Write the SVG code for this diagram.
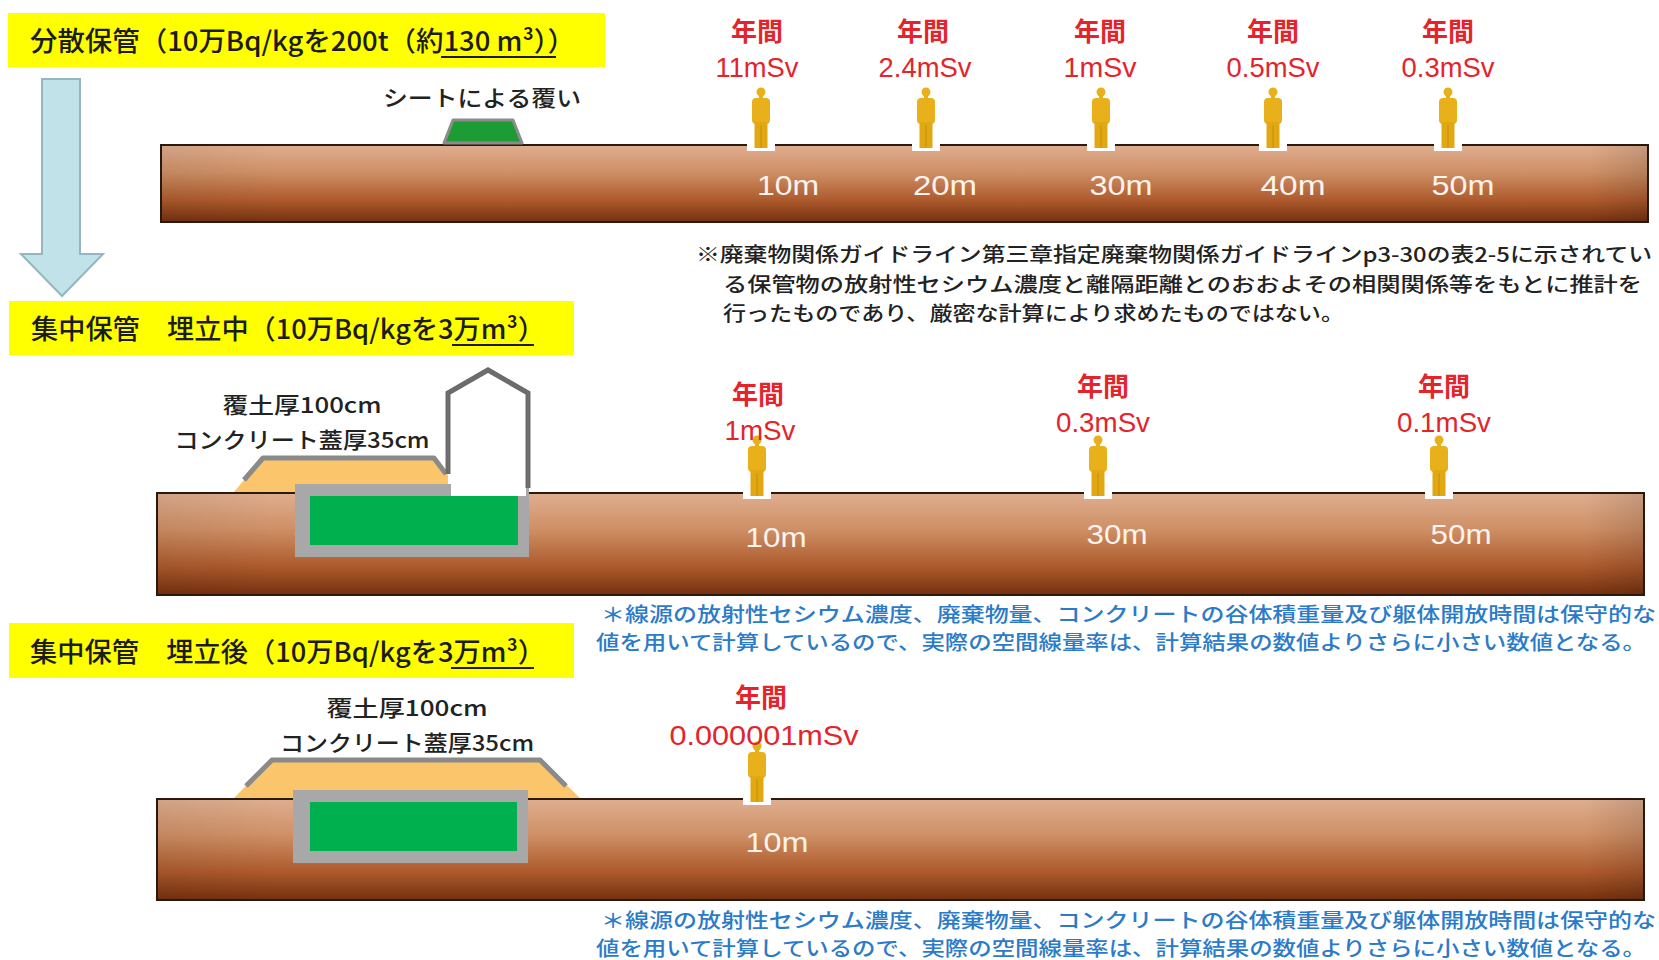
<svg xmlns="http://www.w3.org/2000/svg" xmlns:xlink="http://www.w3.org/1999/xlink" width="1659" height="960" viewBox="0 0 1659 960">
  <defs>
    <style>
      .jp { font-family: "Noto Sans CJK JP", "Liberation Sans", sans-serif; }
      .hdr { font-size: 27px; font-weight: 500; fill: #1c1c1c; }
      .hdrbox { fill: #ffff00; }
      .yr { font-family: "Noto Sans CJK JP", sans-serif; font-size: 26px; font-weight: bold; fill: #e3242b; text-anchor: middle; }
      .dose { font-family: "Liberation Sans", "Noto Sans CJK JP", sans-serif; font-size: 28px; fill: #e3242b; text-anchor: middle; }
      .dist { font-family: "Liberation Sans", sans-serif; font-size: 28px; fill: #fbf3ee; text-anchor: middle; }
      .lbl { font-family: "Noto Sans CJK JP", sans-serif; font-size: 22px; font-weight: 500; fill: #222222; text-anchor: middle; }
      .note { font-family: "Noto Sans CJK JP", sans-serif; font-size: 20px; font-weight: 500; fill: #222222; }
      .bnote { font-family: "Noto Sans CJK JP", sans-serif; font-size: 20px; font-weight: 500; fill: #2b7bc8; }
      .ground { fill: url(#soil); stroke: #2a1a10; stroke-width: 2; }
      .mound { fill: #fbc56c; }
      .moundtop { fill: none; stroke: #8a8a8a; stroke-width: 5; stroke-linejoin: round; }
      .vault { fill: #a8a8a8; }
      .waste { fill: #00b04f; }
      .uline { stroke: #1c1c1c; stroke-width: 2; }
    </style>
    <linearGradient id="soil" x1="0" y1="0" x2="0" y2="1">
      <stop offset="0" stop-color="#dfae90"/>
      <stop offset="0.35" stop-color="#cf9066"/>
      <stop offset="0.72" stop-color="#ad5a2c"/>
      <stop offset="1" stop-color="#74300f"/>
    </linearGradient>
    <linearGradient id="soilEdge" x1="0" y1="0" x2="1" y2="0">
      <stop offset="0" stop-color="#000" stop-opacity="0.06"/>
      <stop offset="0.08" stop-color="#000" stop-opacity="0"/>
      <stop offset="0.96" stop-color="#000" stop-opacity="0"/>
      <stop offset="1" stop-color="#000" stop-opacity="0.12"/>
    </linearGradient>
    <!-- standing figure, origin at the feet on the ground line -->
    <g id="person">
      <rect x="-14" y="-4" width="28" height="10" fill="#ffffff"/>
      <circle cx="0" cy="-53" r="4.5" fill="#e8b11c"/>
      <rect x="-2" y="-50" width="4" height="4" fill="#e8b11c"/>
      <rect x="-9" y="-47" width="18" height="26" rx="4" fill="#e8b11c"/>
      <rect x="-6.5" y="-23" width="13" height="26" fill="#e2a812"/>
      <rect x="-0.6" y="-20" width="1.2" height="23" fill="#c99410"/>
    </g>
  </defs>

  <rect width="1659" height="960" fill="#ffffff"/>

  <!-- section headers -->
  <g id="header-dispersed">
    <rect class="hdrbox" x="8" y="13" width="597" height="54"/>
    <text class="jp hdr" x="30" y="51" textLength="545" lengthAdjust="spacingAndGlyphs">分散保管（10万Bq/kgを200t（約130 m³））</text>
    <line class="uline" x1="441" y1="57" x2="556" y2="57"/>
  </g>
  <g id="header-central-filling">
    <rect class="hdrbox" x="9" y="301" width="565" height="54"/>
    <text class="jp hdr" x="31" y="339" textLength="514" lengthAdjust="spacingAndGlyphs">集中保管　埋立中（10万Bq/kgを3万m³）</text>
    <line class="uline" x1="452" y1="345" x2="534" y2="345"/>
  </g>
  <g id="header-central-filled">
    <rect class="hdrbox" x="9" y="623" width="565" height="55"/>
    <text class="jp hdr" x="30" y="662" textLength="515" lengthAdjust="spacingAndGlyphs">集中保管　埋立後（10万Bq/kgを3万m³）</text>
    <line class="uline" x1="451" y1="668" x2="534" y2="668"/>
  </g>

  <!-- transition arrow -->
  <g id="connectors">
    <path d="M42,79 H80 V254 H103 L62,296 L21,254 H42 Z" fill="#c2e2ea" stroke="#93b6c2" stroke-width="2"/>
  </g>

  <!-- section 1: dispersed storage -->
  <g id="ground-1">
    <rect class="ground" x="161" y="145" width="1487" height="77"/>
    <rect x="161" y="145" width="1487" height="77" fill="url(#soilEdge)"/>
  </g>
  <g id="sheet-cover">
    <polygon points="444,143 453,120 513,120 522,143" fill="#1d9c35" stroke="#8c8c8c" stroke-width="3" stroke-linejoin="round"/>
    <text class="lbl" x="482" y="106" textLength="198" lengthAdjust="spacingAndGlyphs">シートによる覆い</text>
  </g>
  <g id="points-1">
    <use xlink:href="#person" x="761" y="145"/>
    <use xlink:href="#person" x="926" y="145"/>
    <use xlink:href="#person" x="1101" y="145"/>
    <use xlink:href="#person" x="1273" y="145"/>
    <use xlink:href="#person" x="1448" y="145"/>
    <text class="yr" x="757" y="41">年間</text>
    <text class="yr" x="923" y="41">年間</text>
    <text class="yr" x="1100" y="41">年間</text>
    <text class="yr" x="1273" y="41">年間</text>
    <text class="yr" x="1448" y="41">年間</text>
    <text class="dose" x="757" y="77" textLength="83" lengthAdjust="spacingAndGlyphs">11mSv</text>
    <text class="dose" x="925" y="77" textLength="93" lengthAdjust="spacingAndGlyphs">2.4mSv</text>
    <text class="dose" x="1100" y="77" textLength="73" lengthAdjust="spacingAndGlyphs">1mSv</text>
    <text class="dose" x="1273" y="77" textLength="93" lengthAdjust="spacingAndGlyphs">0.5mSv</text>
    <text class="dose" x="1448" y="77" textLength="93" lengthAdjust="spacingAndGlyphs">0.3mSv</text>
    <text class="dist" x="788" y="195" textLength="62" lengthAdjust="spacingAndGlyphs">10m</text>
    <text class="dist" x="945" y="195" textLength="64" lengthAdjust="spacingAndGlyphs">20m</text>
    <text class="dist" x="1121" y="195" textLength="63" lengthAdjust="spacingAndGlyphs">30m</text>
    <text class="dist" x="1293" y="195" textLength="65" lengthAdjust="spacingAndGlyphs">40m</text>
    <text class="dist" x="1463" y="195" textLength="63" lengthAdjust="spacingAndGlyphs">50m</text>
  </g>
  <g id="note-1">
    <text class="note" x="696" y="262" textLength="956" lengthAdjust="spacingAndGlyphs">※廃棄物関係ガイドライン第三章指定廃棄物関係ガイドラインp3-30の表2-5に示されてい</text>
    <text class="note" x="723" y="292" textLength="919" lengthAdjust="spacingAndGlyphs">る保管物の放射性セシウム濃度と離隔距離とのおおよその相関関係等をもとに推計を</text>
    <text class="note" x="723" y="321" textLength="621" lengthAdjust="spacingAndGlyphs">行ったものであり、厳密な計算により求めたものではない。</text>
  </g>

  <!-- section 2: central storage, while filling -->
  <g id="ground-2">
    <rect class="ground" x="157" y="493" width="1487" height="102"/>
    <rect x="157" y="493" width="1487" height="102" fill="url(#soilEdge)"/>
  </g>
  <g id="facility-2">
    <polygon class="mound" points="234,492 263,457 434,457 448,475 448,492"/>
    <polyline class="moundtop" points="244,480 263,458 434,458 446,474"/>
    <rect class="vault" x="295" y="484" width="234" height="73"/>
    <rect class="waste" x="310" y="496" width="208" height="49"/>
    <polygon points="451,393 488,372 526,393 526,496 451,496" fill="#ffffff"/>
    <polyline points="448,474 448,393 488,370 528,393 528,488" fill="none" stroke="#6c6c6c" stroke-width="5" stroke-linejoin="miter"/>
    <text class="lbl" x="302" y="413" textLength="159" lengthAdjust="spacingAndGlyphs">覆土厚100cm</text>
    <text class="lbl" x="302" y="448" textLength="255" lengthAdjust="spacingAndGlyphs">コンクリート蓋厚35cm</text>
  </g>
  <g id="points-2">
    <use xlink:href="#person" x="757" y="493"/>
    <use xlink:href="#person" x="1098" y="493"/>
    <use xlink:href="#person" x="1439" y="493"/>
    <text class="yr" x="758" y="404">年間</text>
    <text class="yr" x="1103" y="396">年間</text>
    <text class="yr" x="1444" y="396">年間</text>
    <text class="dose" x="760" y="440" textLength="71" lengthAdjust="spacingAndGlyphs">1mSv</text>
    <text class="dose" x="1103" y="432" textLength="94" lengthAdjust="spacingAndGlyphs">0.3mSv</text>
    <text class="dose" x="1444" y="432" textLength="94" lengthAdjust="spacingAndGlyphs">0.1mSv</text>
    <text class="dist" x="776" y="547" textLength="61" lengthAdjust="spacingAndGlyphs">10m</text>
    <text class="dist" x="1117" y="544" textLength="61" lengthAdjust="spacingAndGlyphs">30m</text>
    <text class="dist" x="1461" y="544" textLength="61" lengthAdjust="spacingAndGlyphs">50m</text>
  </g>
  <g id="note-2">
    <text class="bnote" x="601" y="622" textLength="1055" lengthAdjust="spacingAndGlyphs">＊線源の放射性セシウム濃度、廃棄物量、コンクリートの谷体積重量及び躯体開放時間は保守的な</text>
    <text class="bnote" x="596" y="650" textLength="1050" lengthAdjust="spacingAndGlyphs">値を用いて計算しているので、実際の空間線量率は、計算結果の数値よりさらに小さい数値となる。</text>
  </g>

  <!-- section 3: central storage, after filling -->
  <g id="ground-3">
    <rect class="ground" x="157" y="799" width="1487" height="101"/>
    <rect x="157" y="799" width="1487" height="101" fill="url(#soilEdge)"/>
  </g>
  <g id="facility-3">
    <polygon class="mound" points="234,798 272,759 540,759 580,798"/>
    <polyline class="moundtop" points="246,786 272,760 540,760 566,786"/>
    <rect class="vault" x="293" y="790" width="235" height="73"/>
    <rect class="waste" x="310" y="802" width="207" height="49"/>
    <text class="lbl" x="407" y="716" textLength="161" lengthAdjust="spacingAndGlyphs">覆土厚100cm</text>
    <text class="lbl" x="407" y="751" textLength="254" lengthAdjust="spacingAndGlyphs">コンクリート蓋厚35cm</text>
  </g>
  <g id="points-3">
    <use xlink:href="#person" x="757" y="799"/>
    <text class="yr" x="761" y="707">年間</text>
    <text class="dose" x="764" y="745" textLength="189" lengthAdjust="spacingAndGlyphs">0.000001mSv</text>
    <text class="dist" x="777" y="852" textLength="63" lengthAdjust="spacingAndGlyphs">10m</text>
  </g>
  <g id="note-3">
    <text class="bnote" x="601" y="928" textLength="1055" lengthAdjust="spacingAndGlyphs">＊線源の放射性セシウム濃度、廃棄物量、コンクリートの谷体積重量及び躯体開放時間は保守的な</text>
    <text class="bnote" x="596" y="956" textLength="1050" lengthAdjust="spacingAndGlyphs">値を用いて計算しているので、実際の空間線量率は、計算結果の数値よりさらに小さい数値となる。</text>
  </g>
</svg>
